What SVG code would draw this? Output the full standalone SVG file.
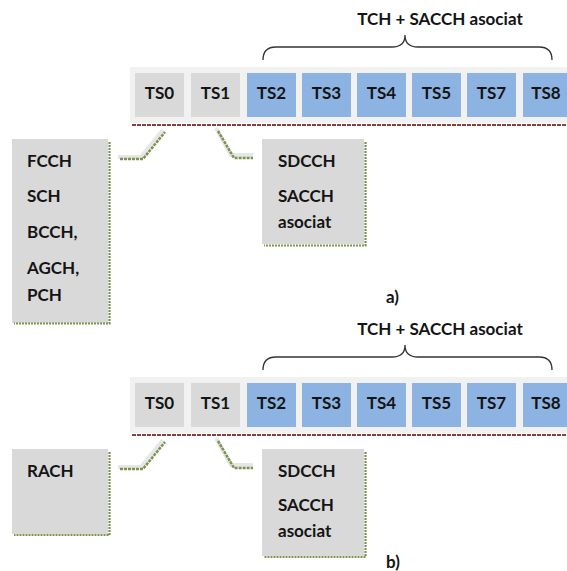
<svg xmlns="http://www.w3.org/2000/svg" width="567" height="571" viewBox="0 0 567 571">
  <style>
    text { font-family: Lato, "Open Sans", "Liberation Sans", sans-serif; font-weight: bold; fill: #141414; }
    .lbl { font-size: 17px; }
    .ts { font-size: 17px; text-anchor: middle; }
    .strip { fill: #f1f1f1; }
    .gray { fill: #d9d9d9; }
    .blue { fill: #8db3e2; }
    .brace { fill: none; stroke: #333; stroke-width: 1.3; }
    .rail { stroke: #8c3d3d; stroke-width: 2; stroke-dasharray: 4 1; fill: none; }
    .shade { fill: none; stroke: #7d9150; stroke-width: 2.2; stroke-dasharray: 2 1; }
    .halo { fill: none; stroke: #e6e6e6; stroke-width: 4; }
    .link { fill: none; stroke: #7d9150; stroke-width: 2.5; stroke-dasharray: 3 1; }
  </style>
  <defs>
    <!-- one frame row: brace, title, timeslot strip and rail -->
    <g id="frame">
      <text x="440" y="25" class="lbl" text-anchor="middle">TCH + SACCH asociat</text>
      <path class="brace" d="M263,60 Q263,47 276,47 L392,47 Q405,47 405,35 Q405,47 418,47 L539,47 Q552,47 552,60"/>
      <rect class="strip" x="130" y="67" width="437" height="56"/>
      <rect class="gray" x="135" y="73" width="49" height="44"/>
      <rect class="gray" x="191" y="73" width="49" height="44"/>
      <rect class="blue" x="247" y="73" width="49" height="44"/>
      <rect class="blue" x="302" y="73" width="49" height="44"/>
      <rect class="blue" x="357" y="73" width="49" height="44"/>
      <rect class="blue" x="412" y="73" width="49" height="44"/>
      <rect class="blue" x="467" y="73" width="49" height="44"/>
      <rect class="blue" x="523" y="73" width="49" height="44"/>
      <text class="ts" x="159.5" y="99">TS0</text>
      <text class="ts" x="215.5" y="99">TS1</text>
      <text class="ts" x="271.5" y="99">TS2</text>
      <text class="ts" x="326.5" y="99">TS3</text>
      <text class="ts" x="381.5" y="99">TS4</text>
      <text class="ts" x="436.5" y="99">TS5</text>
      <text class="ts" x="491.5" y="99">TS7</text>
      <text class="ts" x="546" y="99">TS8</text>
      <line class="rail" x1="132" y1="125" x2="567" y2="125"/>
    </g>
    <!-- elbow connectors from TS0 and TS1 -->
    <g id="links">
      <polyline class="halo" points="118,157 141,157 163,130"/>
      <polyline class="halo" points="216,128 231,155 253,155"/>
      <polyline class="link" points="120,159 143,159 165,132"/>
      <polyline class="link" points="218,131 234,158 253,158"/>
    </g>
  </defs>

  <!-- a) -->
  <g id="frame-a"><use href="#frame"/></g>
  <g id="connectors-a"><use href="#links"/></g>
  <g id="bcch-group">
    <rect class="gray" x="12" y="139" width="96" height="184"/>
    <polyline class="shade" points="109.5,142 109.5,323.5 14,323.5"/>
    <text class="lbl" x="27" y="167">FCCH</text>
    <text class="lbl" x="27" y="202">SCH</text>
    <text class="lbl" x="27" y="238">BCCH,</text>
    <text class="lbl" x="27" y="274">AGCH,</text>
    <text class="lbl" x="27" y="301">PCH</text>
  </g>
  <g id="sdcch-a">
    <rect class="gray" x="262" y="139" width="102" height="105"/>
    <polyline class="shade" points="365.5,142 365.5,245.5 264,245.5"/>
    <text class="lbl" x="278" y="167">SDCCH</text>
    <text class="lbl" x="278" y="202">SACCH</text>
    <text class="lbl" x="278" y="228">asociat</text>
  </g>
  <text class="lbl" x="386" y="303" font-size="15">a)</text>

  <!-- b) -->
  <g id="frame-b" transform="translate(0,310)"><use href="#frame"/></g>
  <g id="connectors-b" transform="translate(0,310)"><use href="#links"/></g>
  <g id="rach">
    <rect class="gray" x="12" y="449" width="96" height="85"/>
    <polyline class="shade" points="109.5,452 109.5,535 14,535"/>
    <text class="lbl" x="27" y="477">RACH</text>
  </g>
  <g id="sdcch-b">
    <rect class="gray" x="262" y="449" width="102" height="107"/>
    <polyline class="shade" points="365.5,452 365.5,557 264,557"/>
    <text class="lbl" x="278" y="477">SDCCH</text>
    <text class="lbl" x="278" y="511">SACCH</text>
    <text class="lbl" x="278" y="537">asociat</text>
  </g>
  <text class="lbl" x="386" y="568" font-size="15">b)</text>
</svg>
